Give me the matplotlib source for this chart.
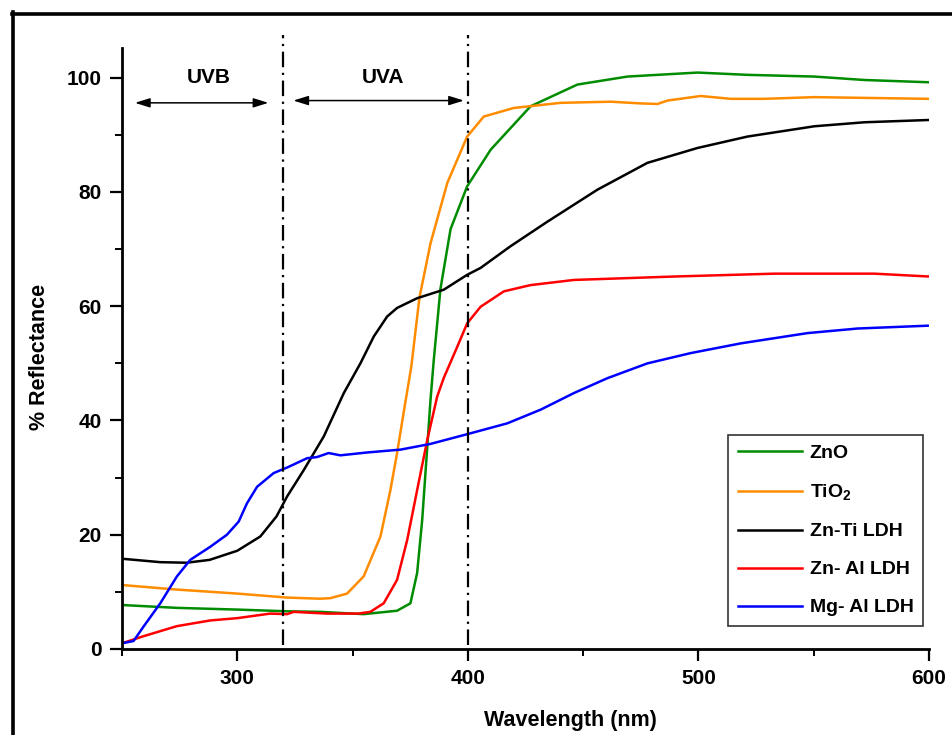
import matplotlib
matplotlib.use("Agg")
import matplotlib.pyplot as plt
from matplotlib.lines import Line2D
from matplotlib.ticker import MultipleLocator

plt.rcParams["font.family"] = ["Liberation Sans", "DejaVu Sans"]
plt.rcParams["font.weight"] = "bold"
plt.rcParams["mathtext.fontset"] = "custom"
plt.rcParams["mathtext.rm"] = "Liberation Sans:bold"
plt.rcParams["mathtext.bf"] = "Liberation Sans:bold"
plt.rcParams["mathtext.it"] = "Liberation Sans:bold"

# valores (nm, % reflectancia)
zno_x = [250, 273.8, 300, 321.6, 336, 354.8, 369.3, 375.1, 378, 380.2, 382.4, 383.8,
         385.2, 388.1, 392.5, 399.7, 409.9, 427.2, 447.5, 469.2, 499.6, 521.3,
         550.3, 572, 600]
zno_y = [7.7, 7.2, 6.9, 6.6, 6.5, 6.1, 6.7, 8.0, 13.3, 22.6, 35.4, 43.6,
         50.5, 63.0, 73.5, 81.0, 87.4, 95.0, 98.8, 100.2, 100.9, 100.5,
         100.2, 99.6, 99.2]

tio2_x = [250, 273.8, 300, 321.6, 336, 340.4, 347.6, 354.8, 362.1, 366.4, 369.3,
          372.2, 375.5, 379, 383.8, 391.1, 399.7, 406.9, 419.9, 440.2, 462,
          475, 482.2, 486.6, 501, 514, 528.5, 550.3, 600]
tio2_y = [11.2, 10.4, 9.7, 9.0, 8.8, 8.9, 9.7, 12.7, 19.7, 27.8, 34.3,
          41.5, 49.5, 61.5, 71.0, 81.6, 89.7, 93.2, 94.7, 95.6, 95.8,
          95.5, 95.4, 96.0, 96.8, 96.3, 96.3, 96.6, 96.3]

znti_x = [250, 266.6, 278, 288, 300, 310, 317, 321.6, 328.8, 337.5, 346.2, 353.4,
          359.2, 365, 369.3, 378, 389.6, 399.7, 405.5, 418.5, 434.5, 456.2,
          477.9, 499.6, 521.3, 550.3, 572, 600]
znti_y = [15.8, 15.2, 15.1, 15.6, 17.2, 19.7, 23.2, 26.7, 31.3, 37.2, 44.8, 50.0,
          54.7, 58.2, 59.7, 61.4, 62.9, 65.5, 66.7, 70.5, 74.8, 80.4,
          85.1, 87.7, 89.7, 91.5, 92.2, 92.6]

znal_x = [250, 259, 273.8, 288.3, 300, 314.3, 321.6, 324.5, 338.9, 352.5, 357.7,
          363.5, 369.3, 373.7, 378, 382.4, 386.7, 389.6, 395.4, 399.7, 405.5,
          415.6, 427.2, 446, 489.5, 532.9, 576.3, 600]
znal_y = [1.0, 2.2, 4.0, 5.0, 5.4, 6.2, 6.1, 6.5, 6.2, 6.2, 6.5,
          8.0, 12.1, 19.1, 27.8, 36.6, 44.2, 47.5, 52.9, 57.0, 59.9,
          62.6, 63.7, 64.6, 65.2, 65.7, 65.7, 65.2]

mgal_x = [250, 255, 259.3, 266.6, 273.8, 279.6, 288.3, 295.5, 300.6, 304.2, 308.6,
          315.8, 321.8, 330.3, 334.6, 339.6, 344.7, 356.3, 370.8, 383.8, 399.7,
          417.1, 431.6, 446, 460.5, 477.9, 496.7, 518.4, 547.4, 569.1, 600]
mgal_y = [1.0, 1.4, 3.9, 8.0, 12.7, 15.6, 17.9, 20.0, 22.3, 25.5, 28.4,
          30.8, 31.8, 33.4, 33.6, 34.3, 33.9, 34.4, 34.9, 35.9, 37.6,
          39.5, 41.9, 44.8, 47.4, 50.0, 51.8, 53.5, 55.3, 56.1, 56.6]

series = [
    ("ZnO", zno_x, zno_y, "#008c00"),
    ("TiO$_{2}$", tio2_x, tio2_y, "#ff8c00"),
    ("Zn-Ti LDH", znti_x, znti_y, "black"),
    ("Zn- Al LDH", znal_x, znal_y, "#ff0000"),
    ("Mg- Al LDH", mgal_x, mgal_y, "#0000ff"),
]

limites_uv = [320, 400]

fig = plt.figure(figsize=(9.53, 7.35), dpi=100)
ax = fig.add_axes([122 / 953, 1 - 649 / 735, 807 / 953, 601 / 735])

for label, xs, ys, color in series:
    ax.plot(xs, ys, color=color, lw=1.8, label=label, solid_joinstyle="round")

for xv in limites_uv:
    ax.plot([xv, xv], [0.7, 107.5], color="black", lw=1.6,
            linestyle=(0, (7, 2.5, 1, 2.5)), clip_on=False)

flecha = dict(arrowstyle="<|-|>,head_length=0.9,head_width=0.28",
              color="black", lw=1.1, shrinkA=0, shrinkB=0)
ax.annotate("", xy=(255.6, 95.6), xytext=(313.5, 95.6), arrowprops=flecha)
ax.annotate("", xy=(324.3, 96.0), xytext=(398.3, 96.0), arrowprops=flecha)
ax.text(287.8, 100, "UVB", ha="center", va="center", fontsize=15, fontweight="bold")
ax.text(363.4, 100, "UVA", ha="center", va="center", fontsize=15, fontweight="bold")

ax.set_xlim(250, 600)
ax.set_ylim(0, 105.2)
ax.xaxis.set_major_locator(MultipleLocator(100))
ax.xaxis.set_minor_locator(MultipleLocator(50))
ax.yaxis.set_major_locator(MultipleLocator(20))
ax.yaxis.set_minor_locator(MultipleLocator(10))
ax.tick_params(which="major", direction="out", length=8.5, width=1.6,
               labelsize=15, pad=6)
ax.tick_params(which="minor", direction="out", length=5, width=1.4)
for lab in ax.get_xticklabels() + ax.get_yticklabels():
    lab.set_fontweight("bold")

for side in ("top", "right"):
    ax.spines[side].set_visible(False)
for side in ("left", "bottom"):
    ax.spines[side].set_linewidth(2.0)

ax.set_xlabel("Wavelength (nm)", fontsize=15.5, fontweight="bold")
ax.set_ylabel("% Reflectance", fontsize=15.5, fontweight="bold")
ax.xaxis.set_label_coords(0.556, -0.1015)
ax.yaxis.set_label_coords(-0.089, 0.486)

leg = ax.legend(loc="lower right", bbox_to_anchor=(0.993, 0.038), borderaxespad=0,
                fontsize=14, handlelength=3.3, handletextpad=0.4, labelspacing=1.05,
                fancybox=False, framealpha=1, borderpad=0.5)
leg.get_frame().set_edgecolor("#333333")
leg.get_frame().set_linewidth(1.2)
for t in leg.get_texts():
    t.set_fontweight("bold")

# marco exterior (solo arriba e izquierda quedan dentro de la imagen)
fig.add_artist(Line2D([12 / 953, 1], [1 - 13.5 / 735] * 2,
                      transform=fig.transFigure, color="black", lw=2.6))
fig.add_artist(Line2D([13.5 / 953] * 2, [0, 1 - 12 / 735],
                      transform=fig.transFigure, color="black", lw=2.6))

fig.savefig("out.png", dpi=100)
